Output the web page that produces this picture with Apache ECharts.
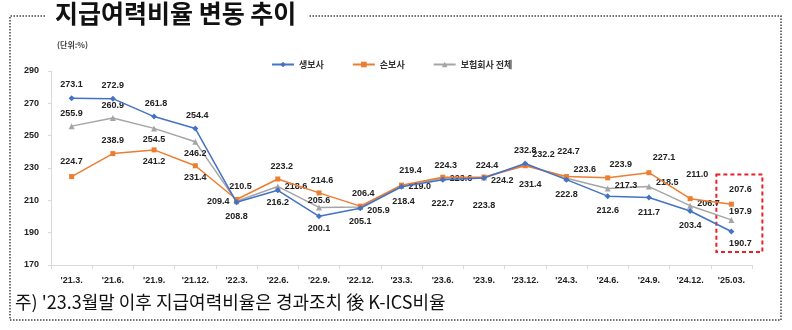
<!DOCTYPE html>
<html><head><meta charset="utf-8">
<script src="https://cdn.jsdelivr.net/npm/echarts@6/dist/echarts.min.js"></script>
<style>html,body{margin:0;padding:0;background:#fff}#c{width:792px;height:330px}</style>
</head><body><div id="c"></div>
<script>
const categories = ["'21.3.","'21.6.","'21.9.","'21.12.","'22.3.","'22.6.","'22.9.","'22.12.","'23.3.","'23.6.","'23.9.","'23.12.","'24.3.","'24.6.","'24.9.","'24.12.","'25.03."];
const lifeValues    = [273.1,272.9,261.8,254.4,208.8,216.2,200.1,205.1,218.4,222.7,223.8,232.8,222.8,212.6,211.7,203.4,190.7];
const nonLifeValues = [224.7,238.9,241.2,231.4,210.5,223.2,214.6,206.4,219.4,224.3,224.4,231.4,224.7,223.9,227.1,211.0,207.6];
const totalValues   = [255.9,260.9,254.5,246.2,209.4,218.6,205.6,205.9,219.0,223.6,224.2,232.2,223.6,217.3,218.5,206.7,197.9];
const seriesNames = ['생보사','손보사','보험회사 전체'];
const yMin = 170, yMax = 290, yStep = 20;

// label placement (style only): [position, dx, dy]
const lifeLbl = [['top',0,-2],['top',0,-2],['top',2,-2],['top',2,-2],['bottom',0,3],['bottom',0,1],['bottom',0,1],['bottom',0,2],['bottom',2,3],['bottom',0,12],['bottom',0,16],['top',0,-1],['bottom',0,3],['bottom',0,3],['bottom',0,3],['bottom',0,3],['bottom',9,0]];
const nonLifeLbl = [['top',0,-4],['top',0,-2],['bottom',0,1],['bottom',0,1],['top',4,-2],['top',4,-1],['top',3,-1],['top',3,-2],['top',9,-4],['top',3,-1],['top',3,-1],['bottom',5,8],['top',2,-14],['top',13,-2],['top',15,-4],['top',7,-13],['top',9,-4]];
const totalLbl = [['top',0,-1],['top',0,-1],['bottom',0,0],['bottom',0,0],['left',0,0],['right',0,0],['top',0,5],['right',0,4],['right',0,1],['right',0,0],['right',0,3],['right',0,-10],['right',0,-9],['right',0,-3],['right',0,-4],['right',0,-2],['top',9,3]];

const numFont = 'Liberation Sans, Noto Sans CJK KR, sans-serif';
function build(vals, lbl){
  return vals.map((v,i)=>({value:v,label:{position:lbl[i][0],offset:[lbl[i][1],lbl[i][2]]}}));
}
const chart = echarts.init(document.getElementById('c'));
const lblStyle = {show:true,fontSize:9,fontWeight:'bold',color:'#222',fontFamily:numFont,distance:4,
  formatter:p=>Number(p.value).toFixed(1)};
chart.setOption({
  animation:false,
  backgroundColor:'#fff',
  grid:{left:51,right:40,top:71,bottom:65},
  legend:{top:55,left:266,itemWidth:22,itemHeight:7,itemGap:28,
    textStyle:{fontSize:9,fontWeight:'bold',color:'#333',fontFamily:'Noto Sans CJK KR'},
    data:seriesNames},
  xAxis:{type:'category',data:categories,boundaryGap:true,
    axisLine:{lineStyle:{color:'#d9d9d9'}},axisTick:{show:true,length:4,lineStyle:{color:'#d9d9d9'}},
    axisLabel:{fontSize:9,fontWeight:'bold',color:'#222',margin:11,fontFamily:numFont,interval:0},
    splitLine:{show:false}},
  yAxis:{type:'value',min:yMin,max:yMax,interval:yStep,
    axisLine:{show:true,lineStyle:{color:'#d9d9d9'}},axisTick:{show:true,length:3,lineStyle:{color:'#d9d9d9'}},
    axisLabel:{fontSize:9,fontWeight:'bold',color:'#222',margin:12,fontFamily:numFont},
    splitLine:{show:false}},
  series:[
    {name:seriesNames[0],type:'line',data:build(lifeValues,lifeLbl),symbol:'diamond',symbolSize:6,
      itemStyle:{color:'#4472C4'},lineStyle:{color:'#4472C4',width:1.5},label:lblStyle,z:3},
    {name:seriesNames[1],type:'line',data:build(nonLifeValues,nonLifeLbl),symbol:'rect',symbolSize:5,
      itemStyle:{color:'#ED7D31'},lineStyle:{color:'#ED7D31',width:1.5},label:lblStyle,z:2},
    {name:seriesNames[2],type:'line',data:build(totalValues,totalLbl),symbol:'triangle',symbolSize:6,
      itemStyle:{color:'#A5A5A5'},lineStyle:{color:'#A5A5A5',width:1.5},label:lblStyle,z:1}
  ]
});
// decorations
const last = categories[categories.length-1];
const pTop = chart.convertToPixel({gridIndex:0},[last,226]);
const pBot = chart.convertToPixel({gridIndex:0},[last,178]);
const dot = {stroke:'#444',lineWidth:1.5,lineDash:[1.5,1.5]};
chart.setOption({graphic:[
  {type:'polyline',shape:{points:[[45,16],[10,16],[10,320],[781,320],[781,16],[308,16]]},style:dot,silent:true},
  {type:'text',left:55,top:1,style:{text:'지급여력비율 변동 추이',font:'bold 25px "Noto Sans CJK KR"',fill:'#111'}},
  {type:'text',left:57,top:41,style:{text:'(단위:%)',font:'bold 8px "Noto Sans CJK KR"',fill:'#444'}},
  {type:'text',left:15,top:293,style:{text:"주) '23.3월말 이후 지급여력비율은 경과조치 後 K-ICS비율",font:'18px "Noto Sans CJK KR"',fill:'#111'}},
  {type:'rect',shape:{x:pTop[0]-15,y:pTop[1],width:46,height:pBot[1]-pTop[1]},
    style:{fill:'none',stroke:'#E8202A',lineWidth:2,lineDash:[4,3]},silent:true}
]});
</script></body></html>
